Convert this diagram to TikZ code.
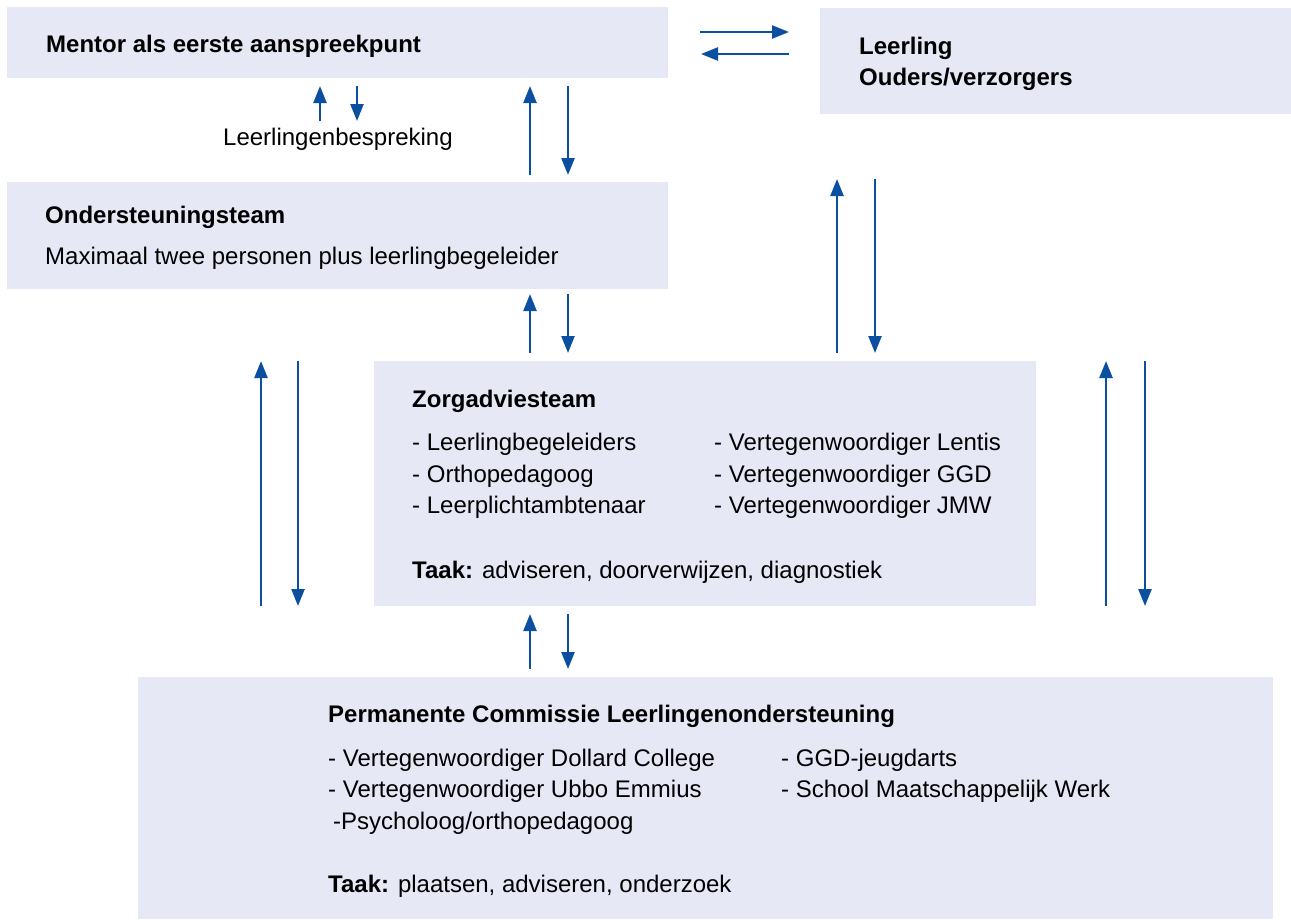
\documentclass[tikz,border=0pt]{standalone}
\usepackage{fontspec}
\setmainfont{Liberation Sans}
\usetikzlibrary{arrows.meta}
\definecolor{boxfill}{HTML}{E7E8F6}
\definecolor{arrblue}{HTML}{0A4FA0}
\begin{document}
\begin{tikzpicture}[x=1pt,y=-1pt,
  box/.style={fill=boxfill,draw=none,anchor=north west,inner sep=0pt},
  arr/.style={draw=arrblue,line width=2.4pt,-{Triangle[length=17pt,width=13pt]}},
  txt/.style={anchor=base west,inner sep=0pt,font=\fontsize{24}{28}\selectfont},
  btxt/.style={txt,font=\fontsize{24}{28}\selectfont\bfseries}]
\useasboundingbox (0,0) rectangle (1291,919);
% boxes
\node[box,minimum width=661pt,minimum height=71pt] (mentor) at (7,7) {};
\node[box,minimum width=471pt,minimum height=106pt] (leerling) at (820,8) {};
\node[box,minimum width=661pt,minimum height=107pt] (onder) at (7,182) {};
\node[box,minimum width=662pt,minimum height=245pt] (zorg) at (374,361) {};
\node[box,minimum width=1135pt,minimum height=242pt] (perm) at (138,677) {};
% texts
\node[btxt] (t1) at (46,52) {Mentor als eerste aanspreekpunt};
\node[btxt] (t2) at (859,54) {Leerling};
\node[btxt] (t3) at (859,85) {Ouders/verzorgers};
\node[txt] (t4) at (223,145) {Leerlingenbespreking};
\node[btxt] (t5) at (45,223) {Ondersteuningsteam};
\node[txt] (t6) at (45,264) {Maximaal twee personen plus leerlingbegeleider};
\node[btxt] (t7) at (412,407) {Zorgadviesteam};
\node[txt] (t8) at (412,450) {- Leerlingbegeleiders};
\node[txt] (t9) at (412,482) {- Orthopedagoog};
\node[txt] (t10) at (412,513) {- Leerplichtambtenaar};
\node[txt] (t11) at (714,450) {- Vertegenwoordiger Lentis};
\node[txt] (t12) at (714,482) {- Vertegenwoordiger GGD};
\node[txt] (t13) at (714,513) {- Vertegenwoordiger JMW};
\node[txt] (t14) at (412,578) {\textbf{Taak:} adviseren, doorverwijzen, diagnostiek};
\node[btxt] (t15) at (328,722) {Permanente Commissie Leerlingenondersteuning};
\node[txt] (t16) at (328,766) {- Vertegenwoordiger Dollard College};
\node[txt] (t17) at (328,797) {- Vertegenwoordiger Ubbo Emmius};
\node[txt] (t18) at (333,829) {-Psycholoog/orthopedagoog};
\node[txt] (t19) at (781,766) {- GGD-jeugdarts};
\node[txt] (t20) at (781,797) {- School Maatschappelijk Werk};
\node[txt] (t21) at (328,892) {\textbf{Taak:} plaatsen, adviseren, onderzoek};
% arrow end points
\coordinate (h1a) at (700,32); \coordinate (h1b) at (789,32);
\coordinate (h2a) at (789,54); \coordinate (h2b) at (701,54);
\coordinate (s1a) at (320,121); \coordinate (s1b) at (320,86);
\coordinate (s2a) at (357,86); \coordinate (s2b) at (357,121);
\coordinate (m1a) at (530,175); \coordinate (m1b) at (530,86);
\coordinate (m2a) at (568,86); \coordinate (m2b) at (568,175);
\coordinate (o1a) at (530,353); \coordinate (o1b) at (530,294);
\coordinate (o2a) at (568,294); \coordinate (o2b) at (568,353);
\coordinate (l1a) at (261,606); \coordinate (l1b) at (261,361);
\coordinate (l2a) at (298,361); \coordinate (l2b) at (298,606);
\coordinate (r1a) at (837,353); \coordinate (r1b) at (837,179);
\coordinate (r2a) at (875,179); \coordinate (r2b) at (875,353);
\coordinate (f1a) at (1106,606); \coordinate (f1b) at (1106,361);
\coordinate (f2a) at (1145,361); \coordinate (f2b) at (1145,606);
\coordinate (z1a) at (530,669); \coordinate (z1b) at (530,614);
\coordinate (z2a) at (568,614); \coordinate (z2b) at (568,669);
% arrows
\draw[arr] (h1a) -- (h1b);
\draw[arr] (h2a) -- (h2b);
\draw[arr] (s1a) -- (s1b);
\draw[arr] (s2a) -- (s2b);
\draw[arr] (m1a) -- (m1b);
\draw[arr] (m2a) -- (m2b);
\draw[arr] (o1a) -- (o1b);
\draw[arr] (o2a) -- (o2b);
\draw[arr] (l1a) -- (l1b);
\draw[arr] (l2a) -- (l2b);
\draw[arr] (r1a) -- (r1b);
\draw[arr] (r2a) -- (r2b);
\draw[arr] (f1a) -- (f1b);
\draw[arr] (f2a) -- (f2b);
\draw[arr] (z1a) -- (z1b);
\draw[arr] (z2a) -- (z2b);
\end{tikzpicture}
\end{document}
